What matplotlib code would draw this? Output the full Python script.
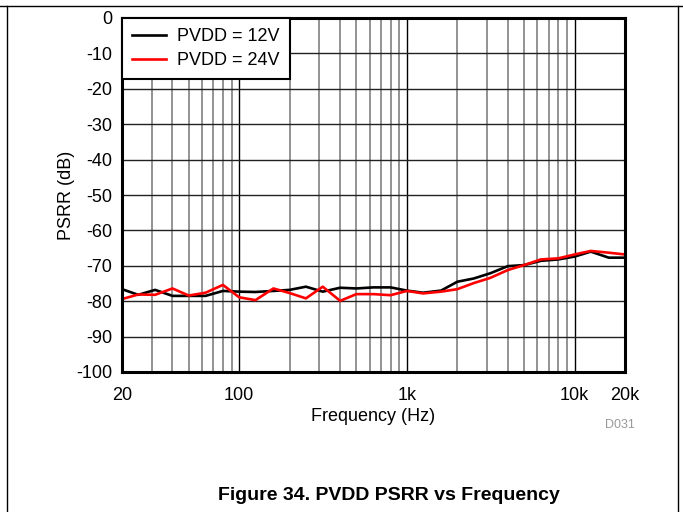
import matplotlib
matplotlib.use("Agg")
import matplotlib.pyplot as plt
from matplotlib.lines import Line2D
from matplotlib.ticker import FixedLocator, NullFormatter

plt.rcParams['font.family'] = ['Liberation Sans', 'DejaVu Sans']

freq = [20, 25, 31.5, 40, 50, 63, 80, 100, 125, 160, 200, 250, 315, 400, 500, 630, 800,
        1000, 1250, 1600, 2000, 2500, 3150, 4000, 5000, 6300, 8000, 10000, 12500, 16000, 20000]
psrr_12v = [-76.6, -78.2, -76.8, -78.5, -78.5, -78.5, -77.1, -77.3, -77.4, -77.1, -76.8, -75.9,
            -77.3, -76.2, -76.4, -76.1, -76.1, -77.0, -77.6, -77.0, -74.5, -73.6, -72.1, -70.1,
            -69.8, -68.6, -68.2, -67.4, -66.0, -67.7, -67.7]
psrr_24v = [-79.4, -78.1, -78.2, -76.4, -78.4, -77.6, -75.4, -78.9, -79.7, -76.4, -77.7, -79.2,
            -75.9, -79.9, -78.0, -78.0, -78.3, -77.1, -77.8, -77.3, -76.6, -74.9, -73.4, -71.2,
            -69.8, -68.2, -67.9, -66.8, -65.8, -66.3, -66.8]
labels = ["PVDD = 12V", "PVDD = 24V"]
xticks = [20, 100, 1000, 10000, 20000]
xticklabels = ["20", "100", "1k", "10k", "20k"]
yticks = list(range(-100, 1, 10))
minor_x = [30, 40, 50, 60, 70, 80, 90, 200, 300, 400, 500, 600, 700, 800, 900,
           2000, 3000, 4000, 5000, 6000, 7000, 8000, 9000]

fs = 13

fig = plt.figure(figsize=(6.83, 5.12), dpi=100)
ax = fig.add_axes([122/683, 1 - 372/512, (625-122)/683, (372-18)/512])

ax.set_xscale('log')
ax.set_xlim(20, 20000)
ax.set_ylim(-100, 0)

for f in minor_x:
    ax.axvline(f, color='#808080', lw=1.2, zorder=1)
for f in [100, 1000, 10000]:
    ax.axvline(f, color='black', lw=1.0, zorder=1)
for y in yticks:
    ax.axhline(y, color='#222222', lw=1.0, zorder=1)

ax.plot(freq, psrr_12v, color='black', lw=1.9, label=labels[0], zorder=3)
ax.plot(freq, psrr_24v, color='#ff0000', lw=1.9, label=labels[1], zorder=4)

ax.xaxis.set_major_locator(FixedLocator(xticks))
ax.set_xticklabels(xticklabels)
ax.xaxis.set_minor_formatter(NullFormatter())
ax.xaxis.set_minor_locator(FixedLocator([]))
ax.set_yticks(yticks)
ax.set_yticklabels([str(v) for v in yticks])
ax.tick_params(axis='both', length=0, labelsize=fs)
ax.tick_params(axis='x', pad=11)
ax.tick_params(axis='y', pad=7)
for s in ax.spines.values():
    s.set_linewidth(2.2)
    s.set_zorder(6)

ax.set_xlabel("Frequency (Hz)", fontsize=fs, labelpad=3)
ax.set_ylabel("PSRR (dB)", fontsize=fs, labelpad=1)

leg = ax.legend(loc='upper left', bbox_to_anchor=(0, 1), fontsize=fs, frameon=True,
                fancybox=False, framealpha=1, edgecolor='black', borderaxespad=0,
                handlelength=1.9, handletextpad=0.6, borderpad=0.55, labelspacing=0.4)
leg.get_frame().set_linewidth(1.5)
leg.set_zorder(7)

fig.text(620/683, 1 - 425/512, "D031", color='#999999', fontsize=9, ha='center', va='center')
fig.text(389/683, 1 - 496/512, "Figure 34. PVDD PSRR vs Frequency", fontsize=14,
         fontweight='bold', ha='center', va='center',
         family=['Liberation Sans Narrow', 'Liberation Sans', 'DejaVu Sans'])

fig.add_artist(Line2D([0, 1], [1 - 6/512, 1 - 6/512], color='black', lw=1.0, transform=fig.transFigure))
fig.add_artist(Line2D([7/683, 7/683], [0, 1 - 6/512], color='black', lw=1.0, transform=fig.transFigure))
fig.add_artist(Line2D([678/683, 678/683], [0, 1 - 6/512], color='black', lw=1.0, transform=fig.transFigure))

fig.savefig("out.png", dpi=100)
